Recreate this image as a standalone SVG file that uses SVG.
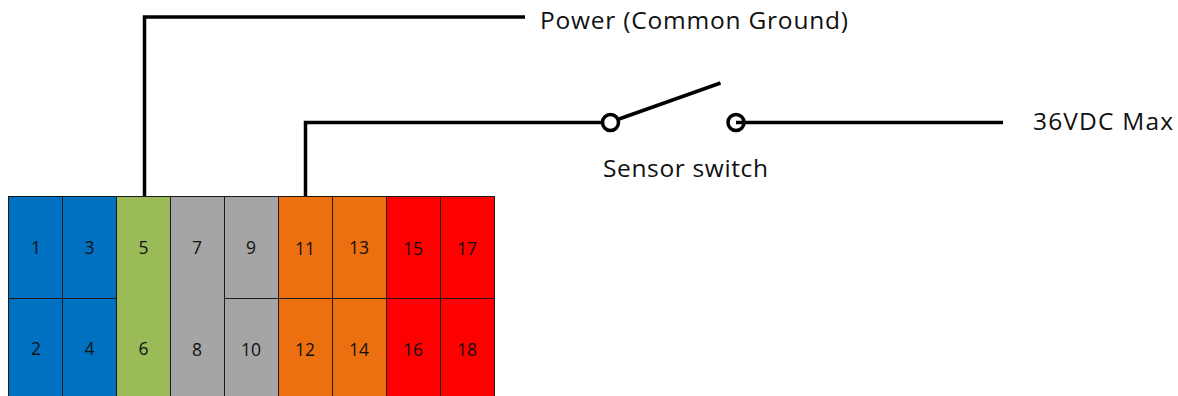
<svg xmlns="http://www.w3.org/2000/svg" width="1178" height="396" viewBox="0 0 1178 396">
<style>
.c{stroke:#1a1a1a;stroke-width:1;shape-rendering:crispEdges}
.b{fill:#0070c0}.g{fill:#9bbb59}.y{fill:#a5a5a5}.o{fill:#ec7010}.r{fill:#ff0000}
text{font-family:"Open Sans","Noto Sans","Liberation Sans",sans-serif;fill:#111}
.n{font-size:17.5px;text-anchor:middle}
.l{font-size:24.5px}
.w{fill:none;stroke:#000;stroke-width:3.5}
.p{fill:#fff;stroke:#000;stroke-width:3.5}
</style>
<rect width="1178" height="396" fill="#fff"/>
<g id="switch-left"><circle class="p" cx="610.500" cy="122.500" r="8"/></g>
<g id="switch-right"><circle class="p" cx="736" cy="122.500" r="8"/></g>
<g id="connectors">
<path class="w" d="M144.500 196V17H525"/>
<path class="w" d="M305.500 196V122.500H602"/>
<path class="w" d="M736 122.500H1003"/>
<path class="w" d="M619 119L720.500 83"/>
</g>
<g id="pin-1"><rect class="b c" x="8.500" y="196.500" width="54" height="102"/><text class="n" x="36" y="254">1</text></g>
<g id="pin-2"><rect class="b c" x="8.500" y="298.500" width="54" height="98"/><text class="n" x="36" y="355">2</text></g>
<g id="pin-3"><rect class="b c" x="62.500" y="196.500" width="54" height="102"/><text class="n" x="89.500" y="254">3</text></g>
<g id="pin-4"><rect class="b c" x="62.500" y="298.500" width="54" height="98"/><text class="n" x="89.500" y="355">4</text></g>
<g id="pin-5-6"><rect class="g c" x="116.500" y="196.500" width="54" height="200"/><text class="n" x="143.500" y="254">5</text><text class="n" x="143.500" y="355">6</text></g>
<g id="pin-7-8"><rect class="y c" x="170.500" y="196.500" width="54" height="200"/><text class="n" x="197" y="254">7</text><text class="n" x="197" y="356">8</text></g>
<g id="pin-9"><rect class="y c" x="224.500" y="196.500" width="54" height="102"/><text class="n" x="251" y="254">9</text></g>
<g id="pin-10"><rect class="y c" x="224.500" y="298.500" width="54" height="98"/><text class="n" x="251" y="356">10</text></g>
<g id="pin-11"><rect class="o c" x="278.500" y="196.500" width="54" height="102"/><text class="n" x="305" y="255">11</text></g>
<g id="pin-12"><rect class="o c" x="278.500" y="298.500" width="54" height="98"/><text class="n" x="305" y="356">12</text></g>
<g id="pin-13"><rect class="o c" x="332.500" y="196.500" width="54" height="102"/><text class="n" x="359" y="254">13</text></g>
<g id="pin-14"><rect class="o c" x="332.500" y="298.500" width="54" height="98"/><text class="n" x="359" y="356">14</text></g>
<g id="pin-15"><rect class="r c" x="386.500" y="196.500" width="54" height="102"/><text class="n" x="413" y="255">15</text></g>
<g id="pin-16"><rect class="r c" x="386.500" y="298.500" width="54" height="98"/><text class="n" x="413" y="356">16</text></g>
<g id="pin-17"><rect class="r c" x="440.500" y="196.500" width="54" height="102"/><text class="n" x="467" y="255">17</text></g>
<g id="pin-18"><rect class="r c" x="440.500" y="298.500" width="54" height="98"/><text class="n" x="467" y="356">18</text></g>
<text class="l" x="540" y="29" textLength="308" lengthAdjust="spacing">Power (Common Ground)</text>
<text class="l" x="603" y="177" textLength="165" lengthAdjust="spacing">Sensor switch</text>
<text class="l" x="1033" y="130" textLength="140" lengthAdjust="spacing">36VDC Max</text>
</svg>
